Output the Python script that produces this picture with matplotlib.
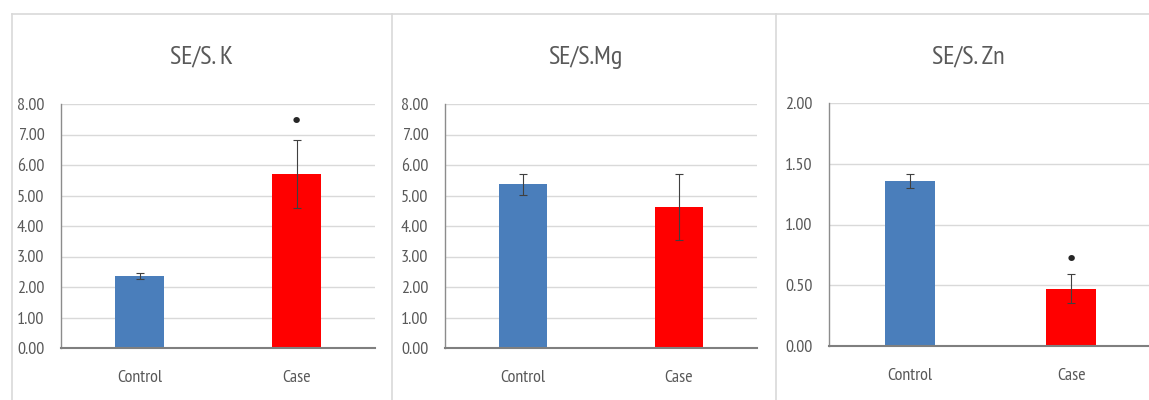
import matplotlib
matplotlib.use("Agg")
import matplotlib.pyplot as plt
from matplotlib.lines import Line2D

FONT = ["PT Sans Narrow", "Carlito", "DejaVu Sans"]
plt.rcParams["font.family"] = FONT

categories = ["Control", "Case"]
titles = ["SE/S. K", "SE/S.Mg", "SE/S. Zn"]
k_means = [2.36, 5.70]
k_err = [0.11, 1.12]
mg_means = [5.37, 4.63]
mg_err = [0.35, 1.08]
zn_means = [1.36, 0.47]
zn_err = [0.06, 0.12]
y_max = [8.0, 8.0, 2.0]
y_step = [1.0, 1.0, 0.5]
sig_y = [[None, 7.41], [None, None], [None, 0.71]]

bar_colors = ["#4A7EBB", "#FF0000"]
W, H = 1149, 400
fig = plt.figure(figsize=(W / 100, H / 100), dpi=100)

def rect(x0, x1, ytop, ybot):
    return [x0 / W, 1 - ybot / H, (x1 - x0) / W, (ybot - ytop) / H]

axes_px = [(61, 375, 104, 348), (445, 757, 104, 348), (829, 1152, 103.3, 345.7)]
title_x = [202, 585, 968]
series = [(k_means, k_err), (mg_means, mg_err), (zn_means, zn_err)]

# panel borders
border = "#d9d9d9"
fig.add_artist(Line2D([12 / W, 1], [1 - 14 / H] * 2, color=border, lw=1.2, transform=fig.transFigure))
for xb in (12, 392, 776):
    fig.add_artist(Line2D([xb / W] * 2, [0, 1 - 14 / H], color=border, lw=1.2, transform=fig.transFigure))

for i in range(3):
    ax = fig.add_axes(rect(*axes_px[i]))
    means, errs = series[i]
    x = list(range(len(categories)))
    ax.bar(x, means, width=0.31, color=bar_colors, zorder=3)
    ax.errorbar(x, means, yerr=errs, fmt="none", ecolor="#404040", elinewidth=0.8,
                capsize=3, capthick=0.8, zorder=4)
    ax.set_xlim(-0.5, 1.5)
    ax.set_ylim(0, y_max[i])
    n = int(round(y_max[i] / y_step[i]))
    ticks = [k * y_step[i] for k in range(n + 1)]
    ax.set_yticks(ticks)
    ax.set_yticklabels([f"{t:.2f}" for t in ticks])
    ax.set_xticks(x)
    ax.set_xticklabels(categories)
    ax.tick_params(axis="both", length=0, labelsize=13, colors="#595959")
    ax.tick_params(axis="y", pad=12)
    ax.tick_params(axis="x", pad=16)
    ax.grid(axis="y", color="#d9d9d9", lw=1.0, zorder=0)
    for s in ("top", "right"):
        ax.spines[s].set_visible(False)
    ax.spines["left"].set_color("#8c8c8c")
    ax.spines["left"].set_linewidth(1.0)
    ax.spines["bottom"].set_color("#7f7f7f")
    ax.spines["bottom"].set_linewidth(1.5)
    ax.spines["bottom"].set_zorder(5)
    for j, sy in enumerate(sig_y[i]):
        if sy is not None:
            ax.text(x[j], sy, "\u2022", ha="center", va="center", fontsize=16,
                    color="#262626", family=["DejaVu Sans"])
    fig.text(title_x[i] / W, 1 - 57 / H, titles[i], ha="center", va="center",
             fontsize=19, color="#595959")

fig.savefig("out.png", dpi=100)
